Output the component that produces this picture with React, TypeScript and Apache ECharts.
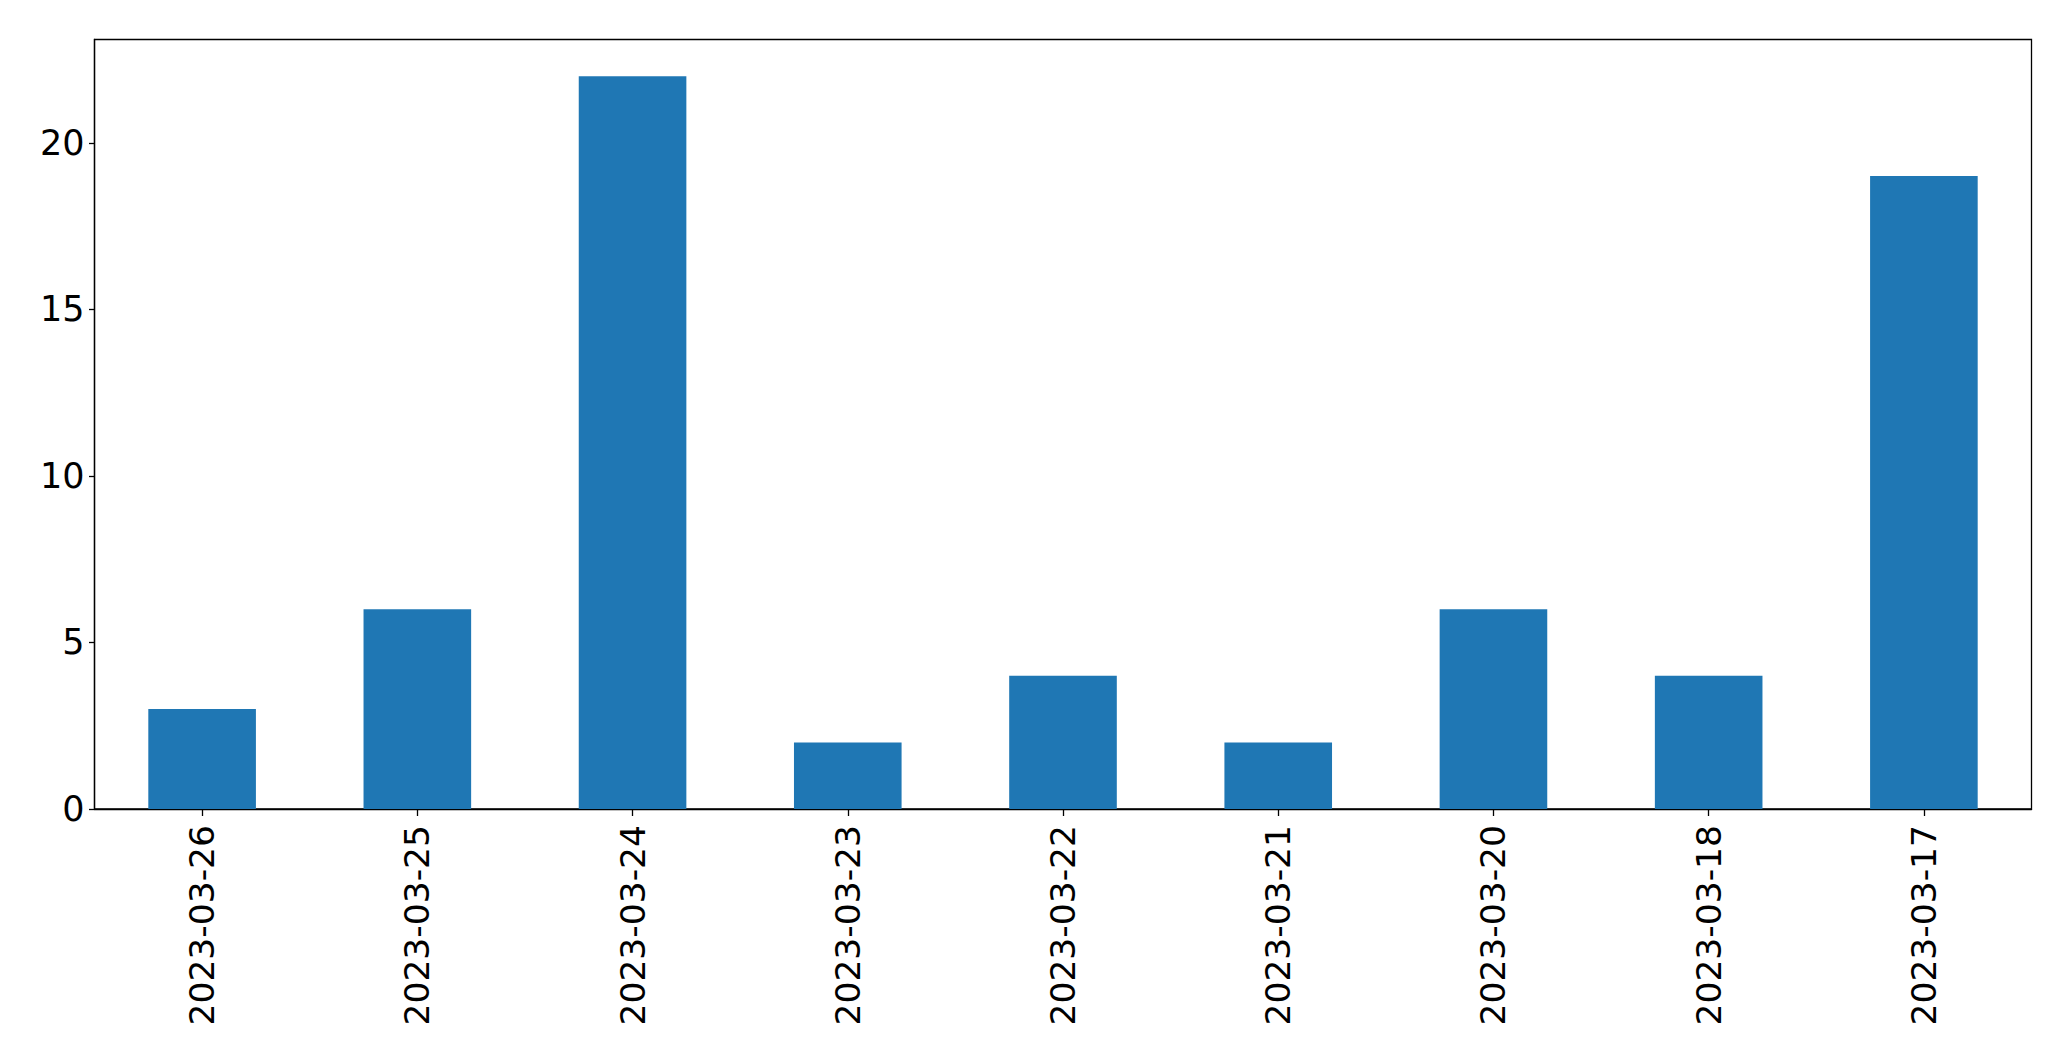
import React, { useEffect, useRef } from "react";
import * as echarts from "echarts";

const categories = [
  "2023-03-26",
  "2023-03-25",
  "2023-03-24",
  "2023-03-23",
  "2023-03-22",
  "2023-03-21",
  "2023-03-20",
  "2023-03-18",
  "2023-03-17",
];
const counts = [3, 6, 22, 2, 4, 2, 6, 4, 19];
const yTicks = [0, 5, 10, 15, 20];
const yMax = 23.1;

export default function App() {
  const ref = useRef<HTMLDivElement>(null);
  useEffect(() => {
    if (!ref.current) return;
    const chart = echarts.init(ref.current, null, { renderer: "svg" });
    const font = "DejaVu Sans";
    chart.setOption({
      animation: false,
      backgroundColor: "#ffffff",
      grid: {
        left: 94.5,
        right: 39.5,
        top: 39.5,
        bottom: 252,
        show: true,
        borderColor: "#000000",
        borderWidth: 1.3,
        backgroundColor: "transparent",
      },
      xAxis: {
        type: "category",
        data: categories,
        boundaryGap: true,
        axisLine: { show: true, lineStyle: { color: "#000", width: 1.3 } },
        axisTick: {
          show: true,
          alignWithLabel: true,
          length: 7,
          lineStyle: { color: "#000", width: 1.3 },
        },
        axisLabel: {
          rotate: 90,
          margin: 16,
          interval: 0,
          color: "#000",
          fontFamily: font,
          fontSize: 34.5,
        },
        splitLine: { show: false },
      },
      yAxis: {
        type: "value",
        min: 0,
        max: yMax,
        interval: 5,
        axisLine: { show: true, lineStyle: { color: "#000", width: 1.3 } },
        axisTick: {
          show: true,
          length: 5.5,
          customValues: yTicks,
          lineStyle: { color: "#000", width: 1.3 },
        },
        axisLabel: {
          margin: 10,
          customValues: yTicks,
          color: "#000",
          fontFamily: font,
          fontSize: 35,
        },
        splitLine: { show: false },
      },
      series: [
        {
          type: "bar",
          data: counts,
          barWidth: "50%",
          itemStyle: { color: "#1f77b4" },
        },
      ],
    });
    return () => chart.dispose();
  }, []);
  return (
    <div
      ref={ref}
      style={{ position: "fixed", left: 0, top: 0, width: 2071, height: 1061 }}
    />
  );
}
